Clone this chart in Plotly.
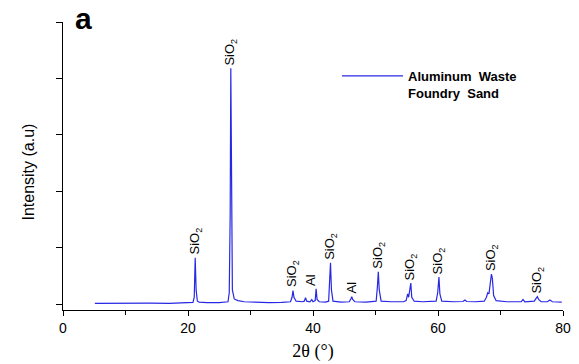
import plotly.graph_objects as go

# XRD pattern (2theta in degrees, intensity in arbitrary units)
two_theta = [5.1, 8, 11, 14, 17, 19, 20.8, 21.0, 21.15, 21.3, 21.5, 21.8, 23, 25,
             26.4, 26.6, 26.75, 26.85, 26.95, 27.1, 27.4, 28.0, 29, 31, 33, 35,
             36.4, 36.65, 36.8, 36.95, 37.3, 38.3, 38.6, 38.8, 39.0, 39.5, 39.7, 39.8, 40.0,
             40.35, 40.5, 40.65, 41.0, 42.0, 42.5, 42.65, 42.8, 42.95, 43.2, 44.5,
             45.8, 46.05, 46.2, 46.35, 46.7, 48.5, 50.1, 50.3, 50.45, 50.6, 50.9, 52.5,
             54.5, 54.9, 55.15, 55.3, 55.5, 55.65, 55.8, 56.2, 57.5, 59.7, 59.95, 60.15,
             60.3, 60.6, 62.5, 64.0, 64.3, 64.6, 66, 67.4, 67.75, 67.95, 68.15, 68.4,
             68.55, 68.7, 68.9, 69.3, 71, 73.3, 73.6, 73.9, 75.4, 75.75, 75.9, 76.1,
             76.5, 77.5, 77.9, 78.3, 79.8]
intensity = [0.01, 0.015, 0.01, 0.015, 0.012, 0.018, 0.03, 0.12, 0.82, 0.25, 0.05, 0.035, 0.025, 0.025,
             0.04, 0.2, 1.6, 4.18, 1.8, 0.25, 0.09, 0.06, 0.04, 0.03, 0.025, 0.03,
             0.04, 0.12, 0.24, 0.12, 0.05, 0.04, 0.05, 0.11, 0.05, 0.04, 0.06, 0.08, 0.04,
             0.06, 0.27, 0.08, 0.04, 0.035, 0.05, 0.3, 0.73, 0.25, 0.05, 0.035,
             0.04, 0.09, 0.13, 0.08, 0.04, 0.035, 0.05, 0.3, 0.57, 0.25, 0.05, 0.04,
             0.04, 0.06, 0.18, 0.12, 0.25, 0.37, 0.12, 0.05, 0.04, 0.05, 0.2, 0.48,
             0.18, 0.05, 0.04, 0.045, 0.07, 0.045, 0.04, 0.05, 0.12, 0.2, 0.18, 0.35,
             0.53, 0.45, 0.15, 0.06, 0.04, 0.04, 0.08, 0.04, 0.05, 0.11, 0.13, 0.08,
             0.04, 0.04, 0.07, 0.04, 0.035]

# Phase labels
label_text = ["SiO<sub>2</sub>", "SiO<sub>2</sub>", "SiO<sub>2</sub>", "Al", "SiO<sub>2</sub>", "Al",
              "SiO<sub>2</sub>", "SiO<sub>2</sub>", "SiO<sub>2</sub>", "SiO<sub>2</sub>", "SiO<sub>2</sub>"]
label_x = [21.15, 26.85, 36.8, 39.7, 42.8, 46.2, 50.45, 55.65, 60.15, 68.55, 75.9]
label_y = [0.82, 4.18, 0.24, 0.27, 0.73, 0.13, 0.57, 0.37, 0.48, 0.53, 0.13]

x_ticks = [0, 20, 40, 60, 80]
series_name = "Aluminum\u00a0 Waste<br>Foundry\u00a0 Sand"

fig = go.Figure()
fig.add_trace(go.Scatter(x=two_theta, y=intensity, mode="lines",
                         line=dict(color="rgb(40,40,228)", width=1.2),
                         name=series_name, showlegend=True))

for t, lx, ly in zip(label_text, label_x, label_y):
    fig.add_annotation(x=lx, y=ly, xref="x", yref="y", text=t, showarrow=False,
                       textangle=-90, xanchor="center", yanchor="bottom", yshift=1,
                       font=dict(family="Liberation Sans, Arial", size=13, color="black"))

fig.add_annotation(x=0.041, y=1.076, xref="paper", yref="paper", text="<b>a</b>",
                   showarrow=False, xanchor="center", yanchor="top",
                   font=dict(family="Liberation Sans, Arial", size=30, color="black"))
fig.add_annotation(x=-0.069, y=0.479, xref="paper", yref="paper", text="Intensity (a.u)",
                   showarrow=False, textangle=-90, xanchor="center", yanchor="middle",
                   font=dict(family="Liberation Sans Narrow, Liberation Sans, Arial", size=16, color="black"))

fig.update_layout(
    width=579, height=364,
    margin=dict(l=63, r=16, t=22, b=54, autoexpand=False),
    paper_bgcolor="white", plot_bgcolor="white",
    font=dict(family="Liberation Sans, Arial", color="black"),
    legend=dict(x=0.548, y=0.865, xanchor="left", yanchor="top", valign="top",
                bgcolor="rgba(0,0,0,0)", itemwidth=61,
                font=dict(family="Liberation Sans, Arial", size=13, color="black", weight="bold")),
    xaxis=dict(range=[0, 80], tickmode="array", tickvals=x_ticks, ticktext=[str(v) for v in x_ticks],
               automargin=False,
               showgrid=False, zeroline=False, showline=True, linecolor="black", linewidth=1,
               ticks="outside", ticklen=5, tickcolor="black",
               minor=dict(dtick=10, ticklen=4, ticks="outside", tickcolor="black", showgrid=False),
               tickfont=dict(family="Liberation Sans, Arial", size=14, color="black"),
               title=dict(text="2θ (°)", standoff=9,
                          font=dict(family="Liberation Serif, Times New Roman", size=18, color="black"))),
    yaxis=dict(range=[-0.106, 5], dtick=1, tick0=0, showticklabels=False, automargin=False,
               showgrid=False, zeroline=False, showline=True, linecolor="black", linewidth=1,
               ticks="outside", ticklen=6, tickcolor="black"),
)

fig.write_html("out.html", config={"displayModeBar": False},
               post_script="document.body.style.margin='0';document.body.style.overflow='hidden';")
